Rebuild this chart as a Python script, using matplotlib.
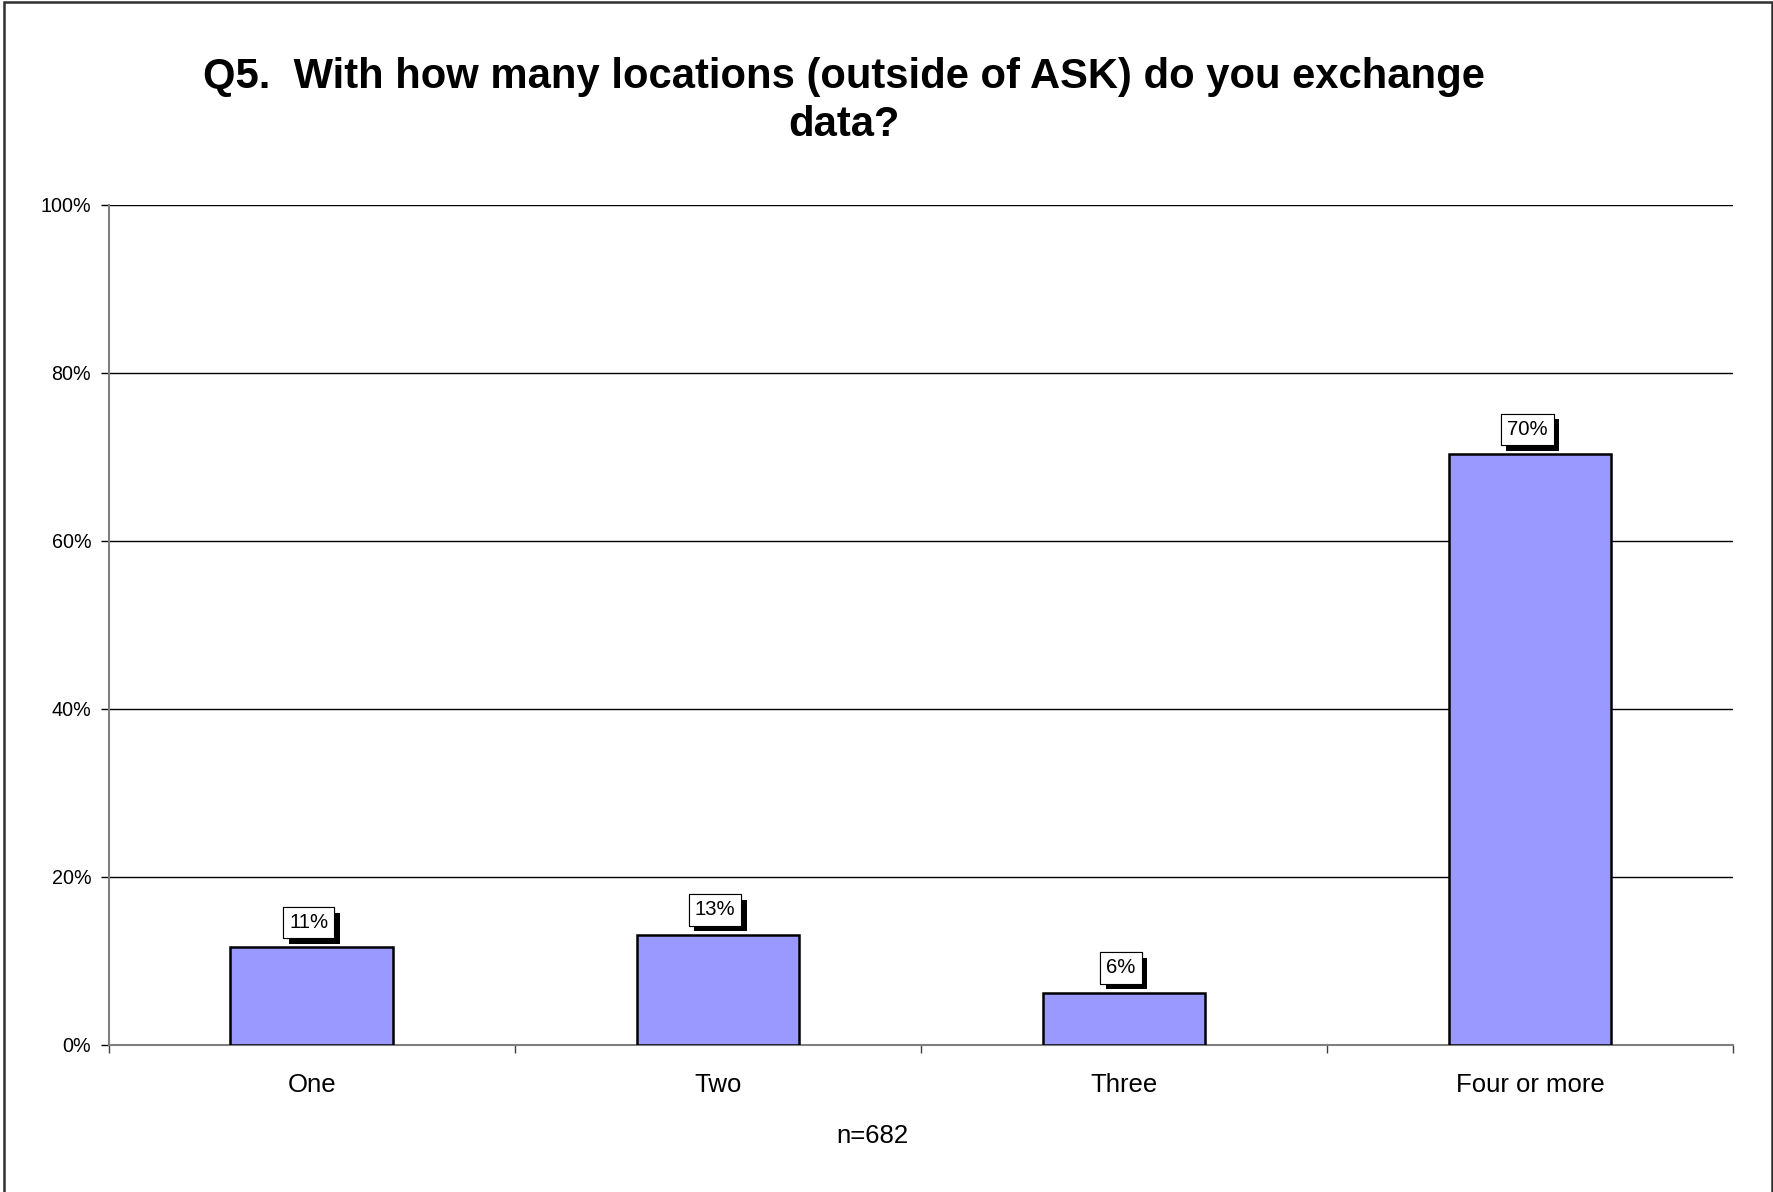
import numpy as np
import matplotlib.pyplot as plt
import matplotlib.patheffects as pe
from matplotlib.patches import Rectangle
from matplotlib.ticker import PercentFormatter, FixedLocator

plt.rcParams['font.family'] = ['Liberation Sans', 'DejaVu Sans']

# data
categories = ['One', 'Two', 'Three', 'Four or more']
values = [0.116, 0.131, 0.062, 0.703]
labels = ['11%', '13%', '6%', '70%']
title = 'Q5.  With how many locations (outside of ASK) do you exchange\ndata?'
note = 'n=682'

fig = plt.figure(figsize=(17.73, 11.92), dpi=100)
ax = fig.add_axes([0.0612, 0.1235, 0.9163, 0.7048])

x = np.arange(len(categories))
ax.bar(x, values, width=0.4, color='#9999FF', edgecolor='black', linewidth=1.8, zorder=3)

# data labels: white box with black drop shadow
for xi, v, lab in zip(x, values, labels):
    t = ax.annotate(lab, xy=(xi, v), xytext=(-2, 11), textcoords='offset points',
                    ha='center', va='bottom', fontsize=14.6, zorder=5,
                    bbox=dict(boxstyle='square,pad=0.3', fc='white', ec='black', lw=0.8))
    t.get_bbox_patch().set_path_effects([
        pe.withSimplePatchShadow(offset=(4, -4), shadow_rgbFace='black', alpha=1.0),
        pe.Normal()])

ax.set_xlim(-0.5, 3.5)
ax.set_ylim(0, 1)
ax.yaxis.set_major_formatter(PercentFormatter(1.0, decimals=0))
ax.set_yticks(np.arange(0, 1.01, 0.2))
ax.grid(axis='y', color='black', linewidth=1.0, zorder=0)

ax.set_xticks(x)
ax.set_xticklabels(categories, fontsize=18.5)
ax.xaxis.set_minor_locator(FixedLocator(np.arange(-0.5, 3.6, 1.0)))
ax.tick_params(axis='x', which='major', length=0, pad=20)
ax.tick_params(axis='x', which='minor', length=6, width=1.0, color='#404040', direction='out')
ax.tick_params(axis='y', length=5.5, width=1.0, color='black', labelsize=14.2, pad=7)

for s in ['top', 'right']:
    ax.spines[s].set_visible(False)
ax.spines['left'].set_color('#808080')
ax.spines['bottom'].set_color('#808080')
ax.spines['left'].set_linewidth(1.5)
ax.spines['bottom'].set_linewidth(1.5)

fig.text(0.476, 0.9152, title, ha='center', va='center', fontsize=30.1,
         fontweight='bold', linespacing=1.28)
fig.text(0.492, 0.0468, note, ha='center', va='center', fontsize=18.5)

# outer chart border
fig.patches.append(Rectangle((4 / 1773, -0.02), 1768 / 1773, 1.02 - 1.5 / 1192,
                             transform=fig.transFigure, fill=False,
                             edgecolor='#303030', linewidth=1.8, clip_on=False))

fig.savefig('out.png', dpi=100)
